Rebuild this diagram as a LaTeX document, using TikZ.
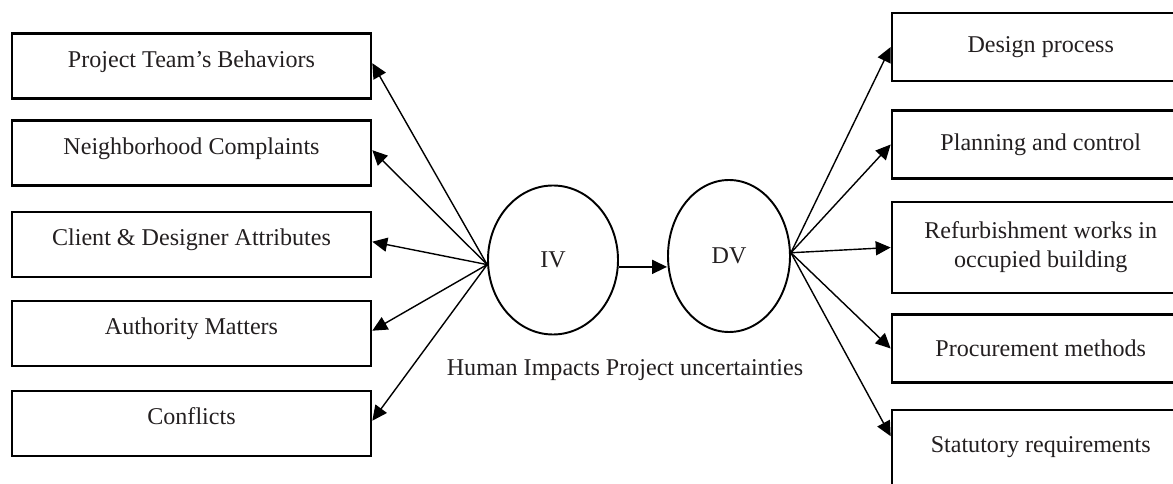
\documentclass[tikz,border=0pt]{standalone}
\usepackage{fontspec}
\setmainfont{Liberation Serif}
\usetikzlibrary{arrows.meta,shapes.geometric}
\definecolor{ink}{RGB}{35,31,32}

\begin{document}
\begin{tikzpicture}
	[auto,
	font=\fontsize{13.7}{16.5}\selectfont, text=ink,
	cause/.style ={rectangle, draw=black, line width=1.5pt, minimum width=7.18cm, minimum height=1.3cm, text height=0.4cm, text depth=0.35cm},
	effect/.style ={rectangle, draw=black, line width=1.5pt, minimum width=5.95cm, minimum height=1.36cm, align=center},
	var/.style ={ellipse, draw=black, line width=1.1pt, inner sep=0pt},
	line/.style ={draw, line width=0.8pt, -{Triangle[length=8.5pt, width=8pt]}}]
	\useasboundingbox (0, 0) rectangle (23.46, -9.68);
	\draw (3.83, -1.32) node[cause] (team) {Project Team's Behaviors};
	\draw (3.83, -3.06) node[cause] (neigh) {Neighborhood Complaints};
	\draw (3.83, -4.89) node[cause] (client) {Client \& Designer Attributes};
	\draw (3.83, -6.67) node[cause] (auth) {Authority Matters};
	\draw (3.83, -8.47) node[cause] (confl) {Conflicts};
	\draw (11.06, -5.2) node[var, minimum width=2.6cm, minimum height=2.98cm] (iv) {IV};
	\draw (14.58, -5.12) node[var, minimum width=2.44cm, minimum height=3.04cm] (dv) {DV};
	\draw (12.5, -7.4) node[] (title) {Human Impacts Project uncertainties};
	\draw (20.815, -0.94) node[effect] (design) {Design process};
	\draw (20.815, -2.89) node[effect] (plan) {Planning and control};
	\draw (20.815, -4.95) node[effect, minimum height=1.82cm] (refurb) {Refurbishment works in\\occupied building};
	\draw (20.815, -6.97) node[effect] (procure) {Procurement methods};
	\draw (20.815, -9.2) node[effect, minimum height=2cm, text height=0.4cm, text depth=0.68cm] (statut) {Statutory requirements};
	\draw[line] (iv.184) -- (team.mid east);
	\draw[line] (iv.184) -- (neigh.mid east);
	\draw[line] (iv.184) -- (client.mid east);
	\draw[line] (iv.184) -- (auth.mid east);
	\draw[line] (iv.184) -- (confl.mid east);
	\draw[line] (iv.-6) -- (iv.-6 -| dv.west);
	\draw[line] (dv.3) -- (design.west);
	\draw[line] (dv.3) -- (plan.west);
	\draw[line] (dv.3) -- (refurb.west);
	\draw[line] (dv.3) -- (procure.west);
	\draw[line] (dv.3) -- (statut.171);
\end{tikzpicture}
\end{document}
